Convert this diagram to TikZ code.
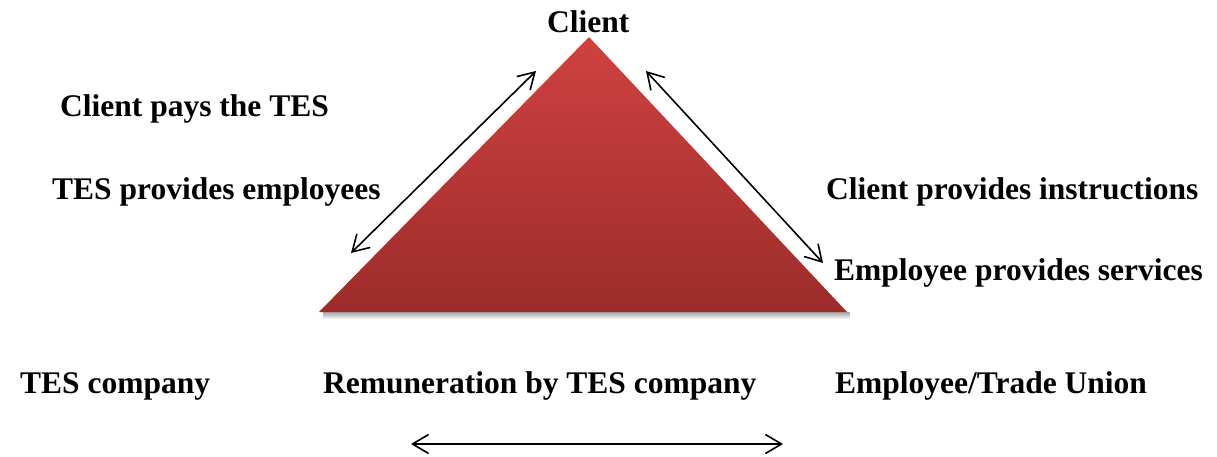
\documentclass[tikz,border=0pt]{standalone}
\usepackage{fontspec}
\setmainfont{Liberation Serif}
\usepackage{xcolor}
\usetikzlibrary{arrows.meta}

\definecolor{tritop}{HTML}{CE4240}
\definecolor{tribot}{HTML}{9C2C2B}

\begin{document}
\begin{tikzpicture}[x=1pt,y=-1pt,
	lbl/.style={anchor=base west,inner sep=0pt,font=\fontsize{31.5}{36}\selectfont\bfseries},
	link/.style={{Straight Barb[length=16pt,width=19pt]}-{Straight Barb[length=16pt,width=19pt]},line width=1.6pt}]
	\useasboundingbox (0,0) rectangle (1217,457);
	
	% triangle with a soft shadow
	\coordinate (apex) at (589,37);
	\coordinate (bl) at (319,312);
	\coordinate (br) at (847,312);
	\foreach \d in {1,2,...,7}
		\fill[black,opacity=0.06] (323,312) rectangle (850,{312+\d});
	\shade[top color=tritop,bottom color=tribot] (apex) -- (br) -- (bl) -- cycle;
	
	\node[lbl] (client) at (547,33) {Client};
	\node[lbl] (pays) at (60,117) {Client pays the TES};
	\node[lbl] (provemp) at (52,199) {TES provides employees};
	\node[lbl] (instr) at (826,199) {Client provides instructions};
	\node[lbl] (serv) at (834,280) {Employee provides services};
	\node[lbl] (tes) at (20,393) {TES company};
	\node[lbl] (remun) at (323,393) {Remuneration by TES company};
	\node[lbl] (union) at (835,393) {Employee/Trade Union};
	
	% arrows
	\coordinate (la) at (351,253);
	\coordinate (lb) at (536,71);
	\coordinate (ra) at (646,71);
	\coordinate (rb) at (823,263);
	\coordinate (ba) at (411,444);
	\coordinate (bb) at (783,444);
	\draw[link] (la) -- (lb);
	\draw[link] (ra) -- (rb);
	\draw[link] (ba) -- (bb);
\end{tikzpicture}
\end{document}
